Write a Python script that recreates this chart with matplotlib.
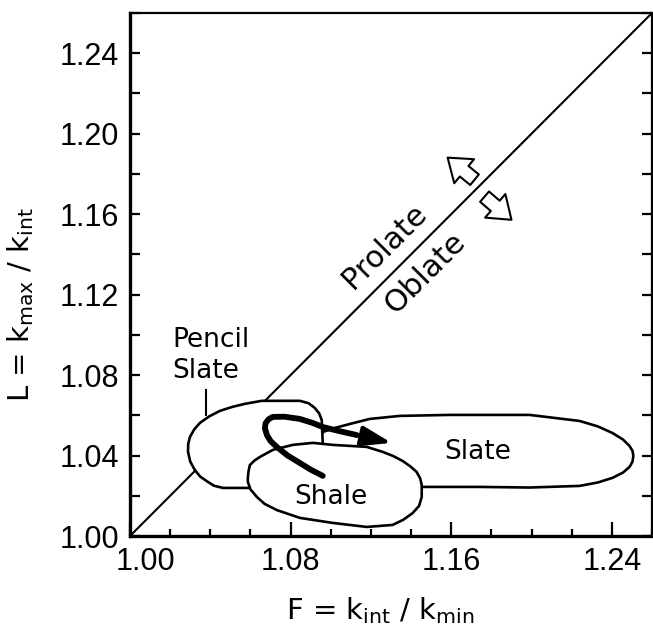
import matplotlib.pyplot as plt
import matplotlib.transforms as mtransforms
from matplotlib.ticker import MultipleLocator, FixedLocator, FormatStrFormatter

plt.rcParams['font.family'] = ['DejaVu Sans']
plt.rcParams['mathtext.default'] = 'regular'

# F = L line separating prolate / oblate fields
diag = [1.00, 1.26]
x_labels_at = [1.00, 1.08, 1.16, 1.24]

# outlines (F, L)
slate_F = [1.0960, 1.1020, 1.1095, 1.1194, 1.1343, 1.1592, 1.1990, 1.2239, 1.2330, 1.2403, 1.2455,
           1.2488, 1.2503, 1.2507, 1.2503, 1.2488, 1.2455, 1.2403, 1.2330, 1.2239, 1.1990, 1.1741,
           1.1458, 1.1244, 1.0995, 1.0920]
slate_L = [1.0517, 1.0537, 1.0557, 1.0582, 1.0597, 1.0602, 1.0602, 1.0572, 1.0545, 1.0512, 1.0480,
           1.0448, 1.0423, 1.0398, 1.0370, 1.0343, 1.0315, 1.0289, 1.0266, 1.0249, 1.0241, 1.0244,
           1.0244, 1.0244, 1.0279, 1.0403]

pencil_F = [1.0587, 1.0463, 1.0418, 1.0388, 1.0350, 1.0323, 1.0300, 1.0289, 1.0290, 1.0299, 1.0320,
            1.0348, 1.0395, 1.0448, 1.0510, 1.0572, 1.0657, 1.0846, 1.0890, 1.0920, 1.0942, 1.0955,
            1.0960, 1.0945, 1.0846]
pencil_L = [1.0239, 1.0239, 1.0250, 1.0269, 1.0295, 1.0328, 1.0370, 1.0418, 1.0458, 1.0493, 1.0530,
            1.0562, 1.0595, 1.0622, 1.0642, 1.0657, 1.0672, 1.0672, 1.0660, 1.0637, 1.0610, 1.0577,
            1.0463, 1.0330, 1.0239]

shale_F = [1.0587, 1.0590, 1.0597, 1.0620, 1.0647, 1.0711, 1.0811, 1.0910, 1.1010, 1.1179, 1.1259,
           1.1310, 1.1358, 1.1398, 1.1428, 1.1445, 1.1453, 1.1453, 1.1440, 1.1408, 1.1360, 1.1308,
           1.1179, 1.1010, 1.0846, 1.0731, 1.0670, 1.0632, 1.0600, 1.0587]
shale_L = [1.0289, 1.0320, 1.0353, 1.0375, 1.0393, 1.0428, 1.0453, 1.0463, 1.0453, 1.0443, 1.0418,
           1.0398, 1.0373, 1.0345, 1.0318, 1.0287, 1.0254, 1.0194, 1.0150, 1.0114, 1.0080, 1.0055,
           1.0045, 1.0065, 1.0090, 1.0129, 1.0160, 1.0194, 1.0232, 1.0269]

# deformation path (thick arrow)
path_F = [1.0960, 1.0900, 1.0846, 1.0785, 1.0731, 1.0700, 1.0682, 1.0672, 1.0675, 1.0690, 1.0711,
          1.0770, 1.0846, 1.0910, 1.0960, 1.1040, 1.1129]
path_L = [1.0299, 1.0330, 1.0363, 1.0400, 1.0443, 1.0472, 1.0502, 1.0535, 1.0560, 1.0580, 1.0592,
          1.0593, 1.0582, 1.0562, 1.0542, 1.0522, 1.0502]
path_tip = (1.1303, 1.0463)

# hollow arrows (tail -> head)
prolate_arrow = [(1.1716, 1.1771), (1.1582, 1.1881)]
oblate_arrow = [(1.1766, 1.1687), (1.1900, 1.1572)]

leader_F = [1.0378, 1.0378]
leader_L = [1.0726, 1.0602]

fig = plt.figure(figsize=(6.53, 6.39), dpi=100)
ax = fig.add_axes([130/653, 103/639, 522/653, 523/639])

ax.plot(diag, diag, color='black', lw=1.5, zorder=1)
for xs, ys, z in [(slate_F, slate_L, 2), (pencil_F, pencil_L, 3), (shale_F, shale_L, 4)]:
    ax.fill(xs, ys, facecolor='white', edgecolor='black', lw=1.9, zorder=z,
            joinstyle='round')
ax.plot(leader_F, leader_L, color='black', lw=1.5)

ax.plot(path_F, path_L, color='black', lw=4.2, solid_capstyle='round',
        solid_joinstyle='round', zorder=6)
ax.annotate('', xy=path_tip, xytext=(path_F[-1], path_L[-1]), zorder=6,
            arrowprops=dict(arrowstyle='-|>,head_length=0.9,head_width=0.3',
                            mutation_scale=20, lw=3, color='black',
                            shrinkA=0, shrinkB=0))

for tail, head in [prolate_arrow, oblate_arrow]:
    ax.annotate('', xy=head, xytext=tail,
                arrowprops=dict(arrowstyle='simple,head_length=0.55,head_width=0.8,tail_width=0.35',
                                mutation_scale=28, fc='white', ec='black', lw=1.5,
                                shrinkA=0, shrinkB=0))

ax.text(1.1269, 1.1438, 'Prolate', rotation=45, ha='center', va='center',
        fontsize=22, rotation_mode='anchor')
ax.text(1.1468, 1.1308, 'Oblate', rotation=45, ha='center', va='center',
        fontsize=22, rotation_mode='anchor')
ax.text(1.0209, 1.0896, 'Pencil\nSlate', ha='left', va='center', fontsize=19,
        linespacing=1.25)
ax.text(1.1731, 1.0418, 'Slate', ha='center', va='center', fontsize=19, zorder=7)
ax.text(1.1000, 1.0194, 'Shale', ha='center', va='center', fontsize=19, zorder=7)

ax.set_xlim(1.00, 1.26)
ax.set_ylim(1.00, 1.26)

ax.xaxis.set_major_locator(FixedLocator(x_labels_at))
ax.xaxis.set_minor_locator(MultipleLocator(0.02))
ax.yaxis.set_major_locator(MultipleLocator(0.04))
ax.yaxis.set_minor_locator(MultipleLocator(0.02))
ax.xaxis.set_major_formatter(FormatStrFormatter('%.2f'))
ax.yaxis.set_major_formatter(FormatStrFormatter('%.2f'))

ax.tick_params(axis='x', which='major', direction='in', length=10, width=1.6, pad=8,
               labelsize=22, top=False)
ax.tick_params(axis='x', which='minor', direction='in', length=5, width=1.6, top=False)
ax.tick_params(axis='y', which='both', direction='in', length=7, width=1.6,
               right=True, labelsize=22, pad=8)
for lab in ax.get_xticklabels() + ax.get_yticklabels():
    lab.set_family('Liberation Sans')

# the corner labels sit a little apart in the original
first_x = ax.xaxis.get_major_ticks()[0].label1
first_x.set_transform(first_x.get_transform() +
                      mtransforms.ScaledTranslation(11/72, 0, fig.dpi_scale_trans))
first_y = ax.yaxis.get_major_ticks()[0].label1
first_y.set_transform(first_y.get_transform() +
                      mtransforms.ScaledTranslation(0, 5/72, fig.dpi_scale_trans))

for side in ['left', 'bottom']:
    ax.spines[side].set_linewidth(2.4)
ax.spines['top'].set_linewidth(1.6)
ax.spines['right'].set_linewidth(1.6)

ax.set_xlabel('F = k$_{int}$ / k$_{min}$', fontsize=21)
ax.xaxis.set_label_coords(0.479, -0.142)
ax.set_ylabel('L = k$_{max}$ / k$_{int}$', fontsize=21)
ax.yaxis.set_label_coords(-0.21, 0.442)
ax.xaxis.label.set_va('center')
ax.yaxis.label.set_va('center')

fig.savefig('out.png', dpi=100)
